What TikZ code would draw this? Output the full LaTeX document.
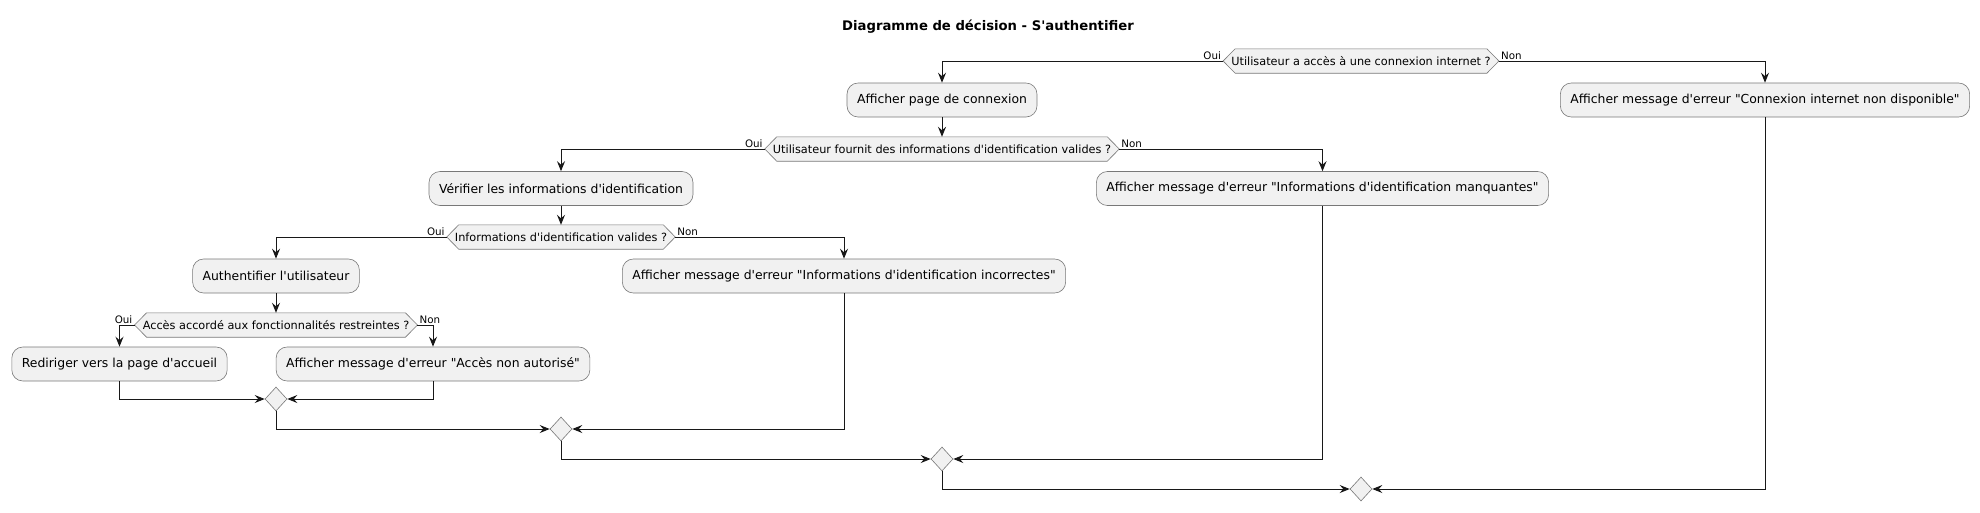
\documentclass[tikz,border=0pt]{standalone}
\usepackage{fontspec}
\setmainfont{DejaVu Sans}[Ligatures=TeXOff]
\usetikzlibrary{arrows.meta,shapes.geometric}
\definecolor{bfill}{HTML}{F1F1F1}
\definecolor{ln}{HTML}{181818}
\definecolor{bord}{HTML}{787878}
\pgfdeclarelayer{bg}
\pgfsetlayers{bg,main}
\newcommand\hexbg[1]{\begin{pgfonlayer}{bg}\draw[hexa] (#1.west) -- ([xshift=12pt]#1.north west) -- ([xshift=-12pt]#1.north east) -- (#1.east) -- ([xshift=-12pt]#1.south east) -- ([xshift=12pt]#1.south west) -- cycle;\end{pgfonlayer}}
\begin{document}
\begin{tikzpicture}[x=1pt,y=-1pt,
 act/.style={rectangle, rounded corners=11pt, fill=bfill, draw=bord, line width=0.6pt, inner xsep=10pt, inner ysep=0pt, minimum height=34pt, font=\fontsize{12.4}{14}\selectfont},
 dec/.style={rectangle, inner xsep=8pt, inner ysep=0pt, minimum height=24pt, font=\fontsize{11.3}{13}\selectfont},
 hexa/.style={fill=bfill, draw=bord, line width=0.6pt},
 merge/.style={diamond, fill=bfill, draw=bord, line width=0.6pt, minimum width=22pt, minimum height=24pt, inner sep=0pt},
 flow/.style={draw=ln, line width=1pt, -{Stealth[length=10pt,width=8pt,inset=3.5pt]}},
 lbl/.style={font=\fontsize{10.3}{12}\selectfont, inner sep=0pt},
 ttl/.style={font=\bfseries\fontsize{13.2}{15}\selectfont}
]
\begin{pgfonlayer}{bg}
\fill[white] (0,0) rectangle (1980,512);
\end{pgfonlayer}
\useasboundingbox (0,0) rectangle (1980,512);

\node[ttl] (title) at (988,27) {Diagramme de décision - S'authentifier};

\node[dec] (d1) at (1361,61) {Utilisateur a accès à une connexion internet ?};
\hexbg{d1}
\node[act] (conn) at (942,100) {Afficher page de connexion};
\node[act] (cnd) at (1765,100) {Afficher message d'erreur "Connexion internet non disponible"};
\node[dec] (d2) at (942,149) {Utilisateur fournit des informations d'identification valides ?};
\hexbg{d2}
\node[act] (ver) at (561,188.5) {Vérifier les informations d'identification};
\node[act] (manq) at (1322.5,188.5) {Afficher message d'erreur "Informations d'identification manquantes"};
\node[dec] (d3) at (561,237) {Informations d'identification valides ?};
\hexbg{d3}
\node[act] (auth) at (276,276) {Authentifier l'utilisateur};
\node[act] (inc) at (844,276) {Afficher message d'erreur "Informations d'identification incorrectes"};
\node[dec] (d4) at (276,325) {Accès accordé aux fonctionnalités restreintes ?};
\hexbg{d4}
\node[act] (redir) at (119.5,364) {Rediriger vers la page d'accueil};
\node[act] (acces) at (433,364) {Afficher message d'erreur "Accès non autorisé"};

\node[merge] (m4) at (276,399) {};
\node[merge] (m3) at (561,429) {};
\node[merge] (m2) at (942,459) {};
\node[merge] (m1) at (1361,489) {};

\foreach \d in {d1,d2,d3,d4}{
  \node[lbl, anchor=base east] (oui\d) at ([xshift=-2pt,yshift=2pt]\d.west) {Oui};
  \node[lbl, anchor=base west] (non\d) at ([xshift=2pt,yshift=2pt]\d.east) {Non};
}

\draw[flow] (d1.west) -| (conn.north);
\draw[flow] (d1.east) -| (cnd.north);
\draw[flow] (conn.south) -- (d2.north);
\draw[flow] (d2.west) -| (ver.north);
\draw[flow] (d2.east) -| (manq.north);
\draw[flow] (ver.south) -- (d3.north);
\draw[flow] (d3.west) -| (auth.north);
\draw[flow] (d3.east) -| (inc.north);
\draw[flow] (auth.south) -- (d4.north);
\draw[flow] (d4.west) -| (redir.north);
\draw[flow] (d4.east) -| (acces.north);
\draw[flow] (redir.south) |- (m4.west);
\draw[flow] (acces.south) |- (m4.east);
\draw[flow] (m4.south) |- (m3.west);
\draw[flow] (inc.south) |- (m3.east);
\draw[flow] (m3.south) |- (m2.west);
\draw[flow] (manq.south) |- (m2.east);
\draw[flow] (m2.south) |- (m1.west);
\draw[flow] (cnd.south) |- (m1.east);
\end{tikzpicture}
\end{document}
